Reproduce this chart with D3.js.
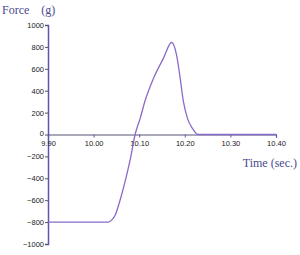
<!DOCTYPE html>
<html>
<head>
<meta charset="utf-8">
<script src="https://cdn.jsdelivr.net/npm/d3@7"></script>
<style>
  body { margin: 0; background: #fff; }
  .tick text { font-family: "Liberation Sans", Arial, sans-serif; font-size: 7.5px; fill: #1a1a1a; }
</style>
</head>
<body>
<svg class="chart"></svg>
<script>
// time (sec.) and force (g)
var times  = [9.90, 10.032, 10.040, 10.047, 10.058, 10.069, 10.080, 10.091, 10.102, 10.113, 10.131, 10.153, 10.171, 10.182, 10.189, 10.197, 10.206, 10.217, 10.229, 10.40];
var forces = [-800, -800, -780, -740, -600, -430, -235, 0, 145, 310, 510, 695, 840, 725, 540, 300, 145, 55, 0, 0];
var xTicks = [9.90, 10.00, 10.10, 10.20, 10.30, 10.40];
var yTicks = [-1000, -800, -600, -400, -200, 0, 200, 400, 600, 800, 1000];

var data = times.map(function(t, i){ return {time: t, force: forces[i]}; });

var chart = d3.select('.chart')
    .attr("width", 300)
    .attr("height", 255);

var xScale = d3.scaleLinear().domain([9.90, 10.40]).range([48, 276]);
var yScale = d3.scaleLinear().domain([-1000, 1000]).range([244, 25]);

// y axis
var yAxis = chart.append("g")
    .attr("transform", "translate(48,0)")
    .call(d3.axisLeft(yScale).tickValues(yTicks).tickSize(3).tickPadding(1).tickFormat(d3.format("d")));
yAxis.select(".domain").attr("stroke", "#5a55b0").attr("stroke-width", 1.5);
yAxis.selectAll(".tick line").attr("stroke", "#555");
// lift the zero label a touch so it clears 9.90
yAxis.selectAll(".tick").filter(function(d){ return d === 0; }).select("text").attr("dy", "0.1em");

// x axis through zero
var xAxis = chart.append("g")
    .attr("transform", "translate(0," + yScale(0) + ")")
    .call(d3.axisBottom(xScale).tickValues(xTicks).tickSize(3).tickPadding(3).tickFormat(d3.format(".2f")));
xAxis.select(".domain").attr("stroke", "#555577").attr("stroke-width", 1.2);
xAxis.selectAll(".tick line").attr("stroke", "#5a55b0");

// force curve
var line = d3.line()
    .curve(d3.curveMonotoneX)
    .x(function(d){ return xScale(d.time); })
    .y(function(d){ return yScale(d.force); });

chart.append("path")
    .datum(data)
    .attr("d", line)
    .attr("fill", "none")
    .attr("stroke", "#8a6ac8")
    .attr("stroke-width", 1.3);

// titles
chart.append("text")
    .attr("x", 2).attr("y", 14)
    .attr("font-family", "'Liberation Serif', 'Times New Roman', serif")
    .attr("font-size", 12)
    .attr("fill", "#4a4a90")
    .attr("xml:space", "preserve")
    .text("Force    (g)");

chart.append("text")
    .attr("x", 297).attr("y", 167)
    .attr("text-anchor", "end")
    .attr("font-family", "'Liberation Serif', 'Times New Roman', serif")
    .attr("font-size", 12)
    .attr("fill", "#4a4a90")
    .text("Time (sec.)");
</script>
</body>
</html>
